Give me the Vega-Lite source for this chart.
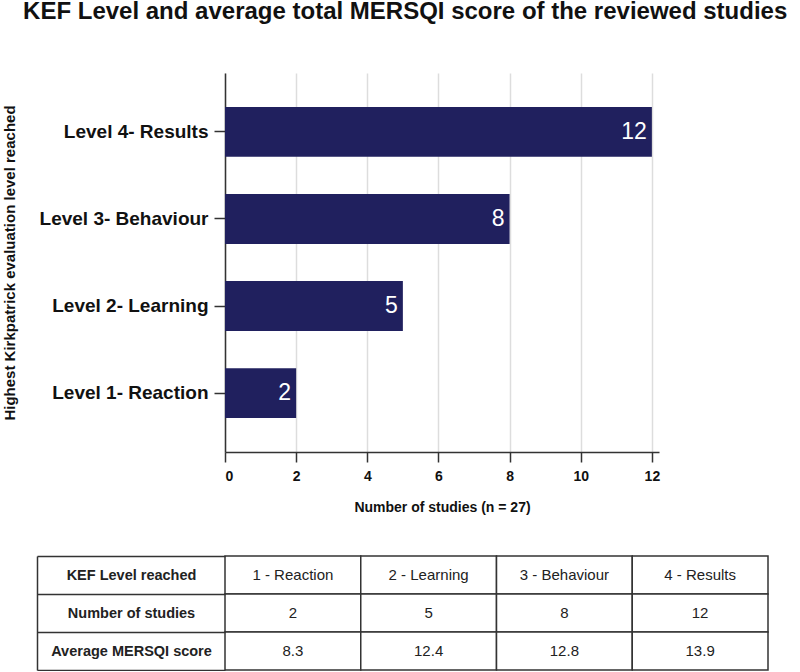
{
  "$schema": "https://vega.github.io/schema/vega-lite/v6.json",
  "padding": {"left": 2, "top": 0, "right": 0, "bottom": 0},
  "autosize": {"type": "pad"},
  "background": "white",
  "title": {
    "text": "KEF Level and average total MERSQI score of the reviewed studies",
    "anchor": "start",
    "frame": "bounds",
    "dx": 21,
    "offset": 49,
    "fontSize": 24,
    "font": "Liberation Sans",
    "fontWeight": "bold",
    "color": "#111"
  },
  "datasets": {
    "bars": [
      {"level": "Level 1- Reaction", "studies": 2},
      {"level": "Level 2- Learning", "studies": 5},
      {"level": "Level 3- Behaviour", "studies": 8},
      {"level": "Level 4- Results", "studies": 12}
    ],
    "table": [
      {"row": "KEF Level reached", "col": "c1", "value": "1 - Reaction"},
      {"row": "KEF Level reached", "col": "c2", "value": "2 - Learning"},
      {"row": "KEF Level reached", "col": "c3", "value": "3 - Behaviour"},
      {"row": "KEF Level reached", "col": "c4", "value": "4 - Results"},
      {"row": "Number of studies", "col": "c1", "value": "2"},
      {"row": "Number of studies", "col": "c2", "value": "5"},
      {"row": "Number of studies", "col": "c3", "value": "8"},
      {"row": "Number of studies", "col": "c4", "value": "12"},
      {"row": "Average MERSQI score", "col": "c1", "value": "8.3"},
      {"row": "Average MERSQI score", "col": "c2", "value": "12.4"},
      {"row": "Average MERSQI score", "col": "c3", "value": "12.8"},
      {"row": "Average MERSQI score", "col": "c4", "value": "13.9"}
    ]
  },
  "spacing": 34,
  "vconcat": [
    {
      "width": 434,
      "height": 379,
      "data": {"name": "bars"},
      "encoding": {
        "y": {
          "field": "level",
          "type": "nominal",
          "sort": ["Level 4- Results", "Level 3- Behaviour", "Level 2- Learning", "Level 1- Reaction"],
          "scale": {"paddingInner": 0.427, "paddingOuter": 0.39},
          "axis": {
            "title": "Highest Kirkpatrick evaluation level reached",
            "titleFontSize": 15,
            "titleFontWeight": "bold",
            "titleColor": "#111",
            "titlePadding": 22,
            "labelFontSize": 19,
            "labelFontWeight": "bold",
            "labelColor": "#111",
            "labelPadding": 6,
            "labelLimit": 0,
            "tickSize": 11,
            "tickColor": "#333",
            "tickWidth": 1.5,
            "domainColor": "#333",
            "domainWidth": 1.5,
            "grid": false
          }
        },
        "x": {
          "field": "studies",
          "type": "quantitative",
          "scale": {"domain": [0, 12.2], "nice": false},
          "axis": {
            "values": [0, 2, 4, 6, 8, 10, 12],
            "title": "Number of studies (n = 27)",
            "titleFontSize": 14,
            "titleFontWeight": "bold",
            "titleColor": "#111",
            "titlePadding": 17,
            "labelFontSize": 14,
            "labelFontWeight": "bold",
            "labelColor": "#111",
            "labelPadding": 7,
            "tickSize": 10,
            "tickColor": "#333",
            "tickWidth": 1.5,
            "domainColor": "#333",
            "domainWidth": 1.5,
            "grid": true,
            "gridColor": "#dddddd",
            "gridWidth": 1.5
          }
        }
      },
      "layer": [
        {"mark": {"type": "bar", "color": "#20205e"}},
        {
          "mark": {"type": "text", "align": "right", "baseline": "middle", "dx": -5, "color": "white", "fontSize": 23},
          "encoding": {"text": {"field": "studies", "type": "quantitative"}}
        }
      ]
    },
    {
      "width": 543,
      "height": 114,
      "data": {"name": "table"},
      "encoding": {
        "x": {
          "field": "col",
          "type": "nominal",
          "sort": ["c1", "c2", "c3", "c4"],
          "scale": {"paddingInner": 0, "paddingOuter": 0},
          "axis": null
        },
        "y": {
          "field": "row",
          "type": "nominal",
          "sort": ["KEF Level reached", "Number of studies", "Average MERSQI score"],
          "scale": {"paddingInner": 0, "paddingOuter": 0},
          "axis": {
            "title": null,
            "orient": "left",
            "offset": 188,
            "domain": true,
            "domainColor": "#333",
            "domainWidth": 1.5,
            "ticks": true,
            "tickBand": "extent",
            "tickSize": -188,
            "tickColor": "#333",
            "tickWidth": 1.5,
            "labelAlign": "center",
            "labelBaseline": "middle",
            "labelPadding": 94,
            "labelLimit": 0,
            "labelFontSize": 14.5,
            "labelFontWeight": "bold",
            "labelColor": "#222"
          }
        }
      },
      "layer": [
        {"mark": {"type": "rect", "fill": "white", "stroke": "#333", "strokeWidth": 1.5}},
        {
          "mark": {"type": "text", "fontSize": 15, "color": "#222"},
          "encoding": {"text": {"field": "value", "type": "nominal"}}
        }
      ]
    }
  ],
  "config": {
    "view": {"stroke": null},
    "font": "Liberation Sans"
  }
}
